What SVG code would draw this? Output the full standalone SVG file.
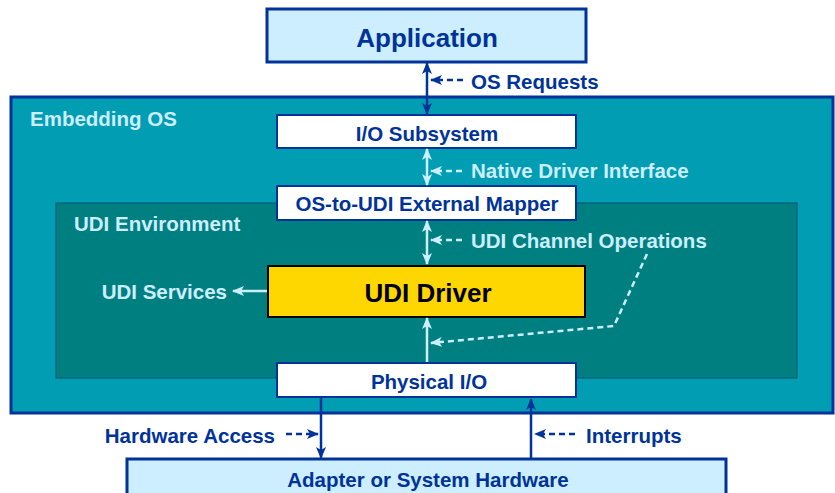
<svg xmlns="http://www.w3.org/2000/svg" width="835" height="493" viewBox="0 0 835 493">
<defs>
<style>
text{font-family:"Liberation Sans",Arial,sans-serif;font-weight:bold}
.dk{fill:#003399}
.lt{fill:#cceeff}
.m{font-size:20.5px}
.box{fill:#ffffff;stroke:#003399;stroke-width:2}
.cdk{stroke:#003399;stroke-width:2.5;fill:none}
.clt{stroke:#cceeff;stroke-width:2.5;fill:none}
.dash{stroke-dasharray:6,4}
</style>
<marker id="ad" viewBox="0 0 12 10" refX="11" refY="5" markerWidth="12" markerHeight="10" markerUnits="userSpaceOnUse" orient="auto-start-reverse">
<path d="M0,0 L12,5 L0,10 L3,5 z" fill="#003399"/>
</marker>
<marker id="al" viewBox="0 0 12 10" refX="11" refY="5" markerWidth="12" markerHeight="10" markerUnits="userSpaceOnUse" orient="auto-start-reverse">
<path d="M0,0 L12,5 L0,10 L3,5 z" fill="#cceeff"/>
</marker>
</defs>

<g id="application">
<rect x="267" y="9" width="319" height="53" fill="#cceeff" stroke="#003399" stroke-width="3"/>
<text x="427" y="47" font-size="26" text-anchor="middle" class="dk">Application</text>
</g>

<g id="embedding-os">
<rect x="11" y="97" width="822" height="316" fill="#009db3" stroke="#003399" stroke-width="3"/>
<text x="30" y="126" class="lt m">Embedding OS</text>
</g>

<g id="udi-environment">
<rect x="56" y="203" width="741" height="175" fill="#007f80" stroke="#005577" stroke-width="1"/>
<text x="74" y="231" class="lt m">UDI Environment</text>
</g>

<g id="io-subsystem">
<rect x="277" y="115" width="299" height="33" class="box"/>
<text x="427" y="141" text-anchor="middle" class="dk m">I/O Subsystem</text>
</g>

<g id="os-to-udi-mapper">
<rect x="277" y="186" width="299" height="34" class="box"/>
<text x="427" y="211" text-anchor="middle" class="dk m">OS-to-UDI External Mapper</text>
</g>

<g id="udi-driver">
<rect x="268" y="266" width="317" height="51" fill="#ffd700" stroke="#000000" stroke-width="2"/>
<text x="428" y="302" font-size="26" text-anchor="middle" fill="#000000">UDI Driver</text>
</g>

<g id="physical-io">
<rect x="277" y="363" width="299" height="34" class="box"/>
<text x="429" y="389" text-anchor="middle" class="dk m">Physical I/O</text>
</g>

<g id="hardware">
<rect x="127" y="459" width="599" height="40" fill="#cceeff" stroke="#003399" stroke-width="3"/>
<text x="428" y="487" text-anchor="middle" class="dk m">Adapter or System Hardware</text>
</g>

<g id="connectors">
<line x1="427" y1="63" x2="427" y2="114" class="cdk" marker-start="url(#ad)" marker-end="url(#ad)"/>
<line x1="463" y1="80" x2="431" y2="80" class="cdk dash" stroke-width="2" marker-end="url(#ad)"/>
<text x="471" y="89" class="dk m">OS Requests</text>

<line x1="427" y1="149" x2="427" y2="185" class="clt" marker-start="url(#al)" marker-end="url(#al)"/>
<line x1="462" y1="171" x2="431" y2="171" class="clt dash" stroke-width="2" marker-end="url(#al)"/>
<text x="471" y="178" class="lt m">Native Driver Interface</text>

<line x1="427" y1="221" x2="427" y2="264" class="clt" marker-start="url(#al)" marker-end="url(#al)"/>
<line x1="462" y1="240" x2="431" y2="240" class="clt dash" stroke-width="2" marker-end="url(#al)"/>
<text x="471" y="248" class="lt m">UDI Channel Operations</text>

<line x1="267" y1="291" x2="233" y2="291" class="clt" marker-end="url(#al)"/>
<text x="227" y="299" text-anchor="end" class="lt m">UDI Services</text>

<line x1="427" y1="362" x2="427" y2="318" class="clt" marker-end="url(#al)"/>
<path d="M647,254 L614,326 L431,343" class="clt dash" stroke-width="2" marker-end="url(#al)"/>

<line x1="321" y1="398" x2="321" y2="458" class="cdk" stroke-width="2" marker-end="url(#ad)"/>
<line x1="286" y1="434" x2="318" y2="434" class="cdk dash" stroke-width="2" marker-end="url(#ad)"/>
<text x="275" y="443" text-anchor="end" class="dk m">Hardware Access</text>

<line x1="531" y1="458" x2="531" y2="399" class="cdk" stroke-width="2" marker-end="url(#ad)"/>
<line x1="575" y1="434" x2="535" y2="434" class="cdk dash" stroke-width="2" marker-end="url(#ad)"/>
<text x="586" y="443" class="dk m">Interrupts</text>
</g>
</svg>
